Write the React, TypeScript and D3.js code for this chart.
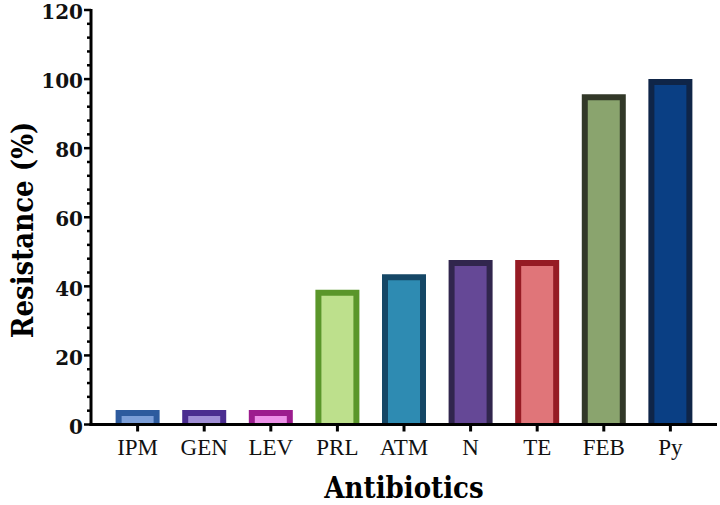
import React from "react";
import * as d3 from "d3";

const categories = ["IPM", "GEN", "LEV", "PRL", "ATM", "N", "TE", "FEB", "Py"];
const resistance = [4.2, 4.2, 4.2, 39, 43.5, 47.6, 47.6, 95.6, 100];
const fills = ["#7b9ed8", "#a08ed6", "#ec90e8", "#bde08c", "#2e8bb2", "#654896", "#e07579", "#8aa46e", "#0a3f84"];
const strokes = ["#2d5b9e", "#4b2d90", "#9c1c8e", "#5a962a", "#154766", "#31264d", "#961b24", "#323828", "#0f2548"];
const majorTicks = [0, 20, 40, 60, 80, 100, 120];
const minorTicks = d3.range(0, 121, 4).filter((v) => v % 20 !== 0);

const W = 720, H = 505;
const left = 91, right = 717, top = 10, bottom = 424.5;
const titleFont = "'DejaVu Serif Condensed', 'DejaVu Serif', serif";

export default function App() {
  const x = d3.scalePoint<string>().domain(categories).range([left, right]).padding(0.7);
  const y = d3.scaleLinear().domain([0, 120]).range([bottom, top]);
  const barW = 44, sw = 6;
  return (
    <svg width={W} height={H} style={{ position: "absolute", left: 0, top: 0, background: "#fff" }}>
      {categories.map((c, i) => {
        const cx = x(c)!;
        const yt = y(resistance[i]);
        const x0 = cx - barW / 2 + sw / 2;
        const x1 = cx + barW / 2 - sw / 2;
        const yi = yt + sw / 2;
        return (
          <g key={c}>
            <rect x={x0} y={yi} width={x1 - x0} height={Math.max(0, bottom - yi)} fill={fills[i]} />
            <path d={`M${x0},${bottom}V${yi}H${x1}V${bottom}`} fill="none" stroke={strokes[i]}
              strokeWidth={sw} strokeLinejoin="miter" />
          </g>
        );
      })}
      {/* y axis */}
      <line x1={left} x2={left} y1={top - 1} y2={bottom + 1.5} stroke="#000" strokeWidth={3} />
      {majorTicks.map((t) => (
        <g key={t}>
          <line x1={left - 7} x2={left} y1={y(t)} y2={y(t)} stroke="#000" strokeWidth={2.5} />
          <text x={left - 8} y={y(t)} dy="0.46em" textAnchor="end" fontFamily="'DejaVu Serif', serif"
            fontWeight="bold" fontSize={20} fill="#111">{t}</text>
        </g>
      ))}
      {minorTicks.map((t) => (
        <line key={t} x1={left - 4} x2={left} y1={y(t)} y2={y(t)} stroke="#000" strokeWidth={2.5} />
      ))}
      {/* x axis */}
      <line x1={left - 1.5} x2={right} y1={bottom} y2={bottom} stroke="#000" strokeWidth={3} />
      {categories.map((c) => (
        <g key={c}>
          <line x1={x(c)!} x2={x(c)!} y1={bottom} y2={bottom + 7} stroke="#000" strokeWidth={3} />
          <text x={x(c)!} y={455} textAnchor="middle" fontFamily="'Liberation Serif', 'Times New Roman', serif"
            fontSize={23} fill="#111">{c}</text>
        </g>
      ))}
      <text x={404} y={498} textAnchor="middle" fontFamily={titleFont} fontWeight="bold" fontSize={29} fill="#000">Antibiotics</text>
      <text transform={`translate(33, 230) rotate(-90)`} textAnchor="middle" fontFamily={titleFont}
        fontWeight="bold" fontSize={29} fill="#000">Resistance (%)</text>
    </svg>
  );
}
